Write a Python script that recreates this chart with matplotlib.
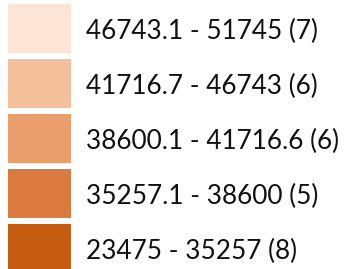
import matplotlib
matplotlib.use("Agg")
import matplotlib.pyplot as plt

labels = ["46743.1 - 51745 (7)", "41716.7 - 46743 (6)", "38600.1 - 41716.6 (6)",
          "35257.1 - 38600 (5)", "23475 - 35257 (8)"]
colors = ["#FCE4D6", "#F4BF9B", "#EA9E6C", "#DB7A3F", "#C55A11"]

W, H = 344, 269
fig = plt.figure(figsize=(W/100, H/100), dpi=100)
ax = fig.add_axes([0, 0, 1, 1])
ax.set_xlim(0, W)
step = 55.0
ax.set_ylim((H - 28.5) / step, -28.5 / step)
ax.axis("off")

pos = list(range(len(labels)))
ax.barh(pos, [63]*len(pos), left=8, height=49/step, color=colors)
for i, t in zip(pos, labels):
    ax.text(86, i, t, va="center_baseline", ha="left", fontsize=18.8, family="Lato", color="#111111")

fig.savefig("out.png", dpi=100)
